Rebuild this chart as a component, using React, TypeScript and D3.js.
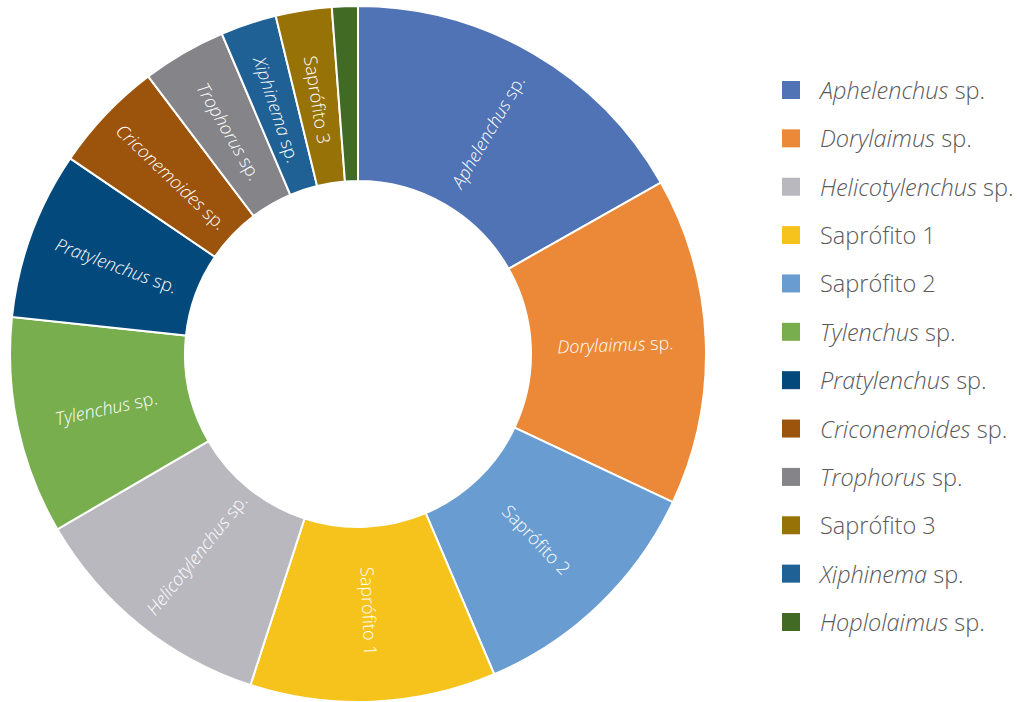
import React from "react";
import * as d3 from "d3";

// Slices in clockwise order starting at 12 o'clock
const sliceNames = [
  "Aphelenchus", "Dorylaimus", "Saprófito 2", "Saprófito 1", "Helicotylenchus",
  "Tylenchus", "Pratylenchus", "Criconemoides", "Trophorus", "Xiphinema",
  "Saprófito 3", "Hoplolaimus",
];
const sliceValues = [16.8, 15.2, 11.6, 11.4, 11.6, 10.1, 7.8, 5.2, 3.9, 2.6, 2.6, 1.2];
const sliceItalic = [true, true, false, false, true, true, true, true, true, true, false, true];
const sliceShowLabel = [true, true, true, true, true, true, true, true, true, true, true, false];

// Legend order
const legendNames = [
  "Aphelenchus", "Dorylaimus", "Helicotylenchus", "Saprófito 1", "Saprófito 2",
  "Tylenchus", "Pratylenchus", "Criconemoides", "Trophorus", "Saprófito 3",
  "Xiphinema", "Hoplolaimus",
];

const colorByName: Record<string, string> = {
  "Aphelenchus": "#4F73B5",
  "Dorylaimus": "#EC8938",
  "Helicotylenchus": "#B9B8BF",
  "Saprófito 1": "#F6C31C",
  "Saprófito 2": "#699DD2",
  "Tylenchus": "#78AE4E",
  "Pratylenchus": "#03497C",
  "Criconemoides": "#9C540C",
  "Trophorus": "#858489",
  "Saprófito 3": "#977206",
  "Xiphinema": "#1F6095",
  "Hoplolaimus": "#416A25",
};

const italicByName: Record<string, boolean> = {};
sliceNames.forEach((n, i) => (italicByName[n] = sliceItalic[i]));

const FONT = "'Open Sans', 'Noto Sans', sans-serif";

function Label({ name, italic }: { name: string; italic: boolean }) {
  if (italic) {
    return (
      <>
        <tspan fontStyle="italic">{name}</tspan>
        <tspan> sp.</tspan>
      </>
    );
  }
  return <tspan>{name}</tspan>;
}

export default function App() {
  const W = 1017, H = 702;
  const cx = 358, cy = 354;
  const outer = 348, inner = 173;

  const pie = d3.pie<number>().sort(null).value((d) => d)(sliceValues);
  const arc = d3.arc<d3.PieArcDatum<number>>().innerRadius(inner).outerRadius(outer);
  const labelR = (inner + outer) / 2 - 3;

  const legendY = d3.scalePoint<string>().domain(legendNames).range([90, 622]);

  return (
    <svg width={W} height={H} style={{ position: "absolute", left: 0, top: 0, background: "#fff" }}>
      <g transform={`translate(${cx},${cy})`}>
        {pie.map((p, i) => (
          <path key={i} d={arc(p) || ""} fill={colorByName[sliceNames[i]]} stroke="#fff" strokeWidth={2} />
        ))}
        {pie.map((p, i) => {
          if (!sliceShowLabel[i]) return null;
          const mid = (p.startAngle + p.endAngle) / 2;
          const deg = (mid * 180) / Math.PI;
          const x = Math.sin(mid) * labelR;
          const y = -Math.cos(mid) * labelR;
          const rot = deg > 180 ? deg - 270 : deg - 90;
          return (
            <text
              key={"l" + i}
              transform={`translate(${x},${y}) rotate(${rot})`}
              textAnchor="middle"
              dominantBaseline="central"
              fill="#fff"
              fontFamily={FONT}
              fontSize={18}
              fontWeight={300}
            >
              <Label name={sliceNames[i]} italic={sliceItalic[i]} />
            </text>
          );
        })}
      </g>
      <g>
        {legendNames.map((n) => {
          const y = legendY(n)!;
          return (
            <g key={n}>
              <rect x={782} y={y - 9} width={18} height={18} fill={colorByName[n]} />
              <text x={820} y={y} dominantBaseline="central" fill="#595959" fontFamily={FONT} fontSize={23.5} fontWeight={300}>
                <Label name={n} italic={italicByName[n]} />
              </text>
            </g>
          );
        })}
      </g>
    </svg>
  );
}
